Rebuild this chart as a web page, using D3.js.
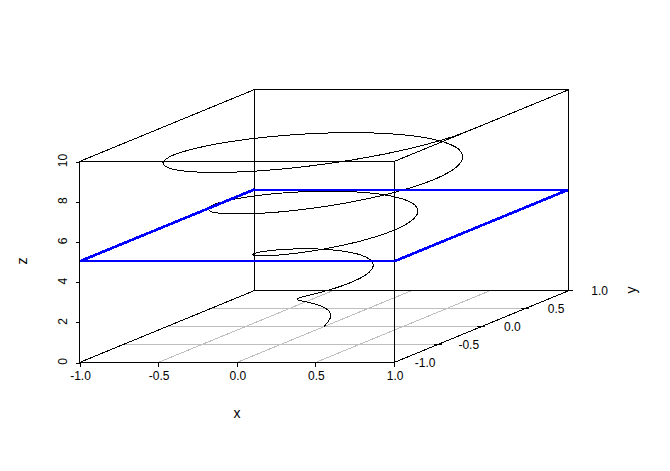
<!DOCTYPE html>
<html>
<head>
<meta charset="utf-8">
<script src="https://cdn.jsdelivr.net/npm/d3@7/dist/d3.min.js"></script>
<style>
html,body{margin:0;padding:0;background:#fff;}
svg{display:block;}
text{font-family:"Liberation Sans",Arial,sans-serif;font-size:12px;fill:#000;}
</style>
</head>
<body>
<div id="chart"></div>
<script>
const xTickValues = [-1, -0.5, 0, 0.5, 1];
const xTickLabels = ["-1.0", "-0.5", "0.0", "0.5", "1.0"];
const yTickValues = [-1, -0.5, 0, 0.5, 1];
const yTickLabels = ["-1.0", "-0.5", "0.0", "0.5", "1.0"];
const zTickValues = [0, 2, 4, 6, 8, 10];
const gridX = [-0.5, 0, 0.5];
const gridY = [-0.5, 0, 0.5];
const planeZ = 5;

const helixX = [0,.010,.018,.022,.021,.013,0,-.019,-.042,-.066,-.090,-.111,-.125,-.131,-.126,-.111,-.083,-.046,0,.051,.104,.155,.198,.231,
.25,.2515,.2345,.1989,.1458,.0782,0,-.0836,-.1667,-.2431,-.3067,-.3522,-.375,-.3723,-.3428,-.2873,-.2083,-.1105,0,.1159,.2292,.3315,.4150,.4729,
.5,.4930,.4511,.3757,.2708,.1429,0,-.1483,-.2917,-.4199,-.5232,-.5936,-.625,-.6137,-.5593,-.4641,-.3333,-.1752,0,.1806,.3542,.5083,.6315,.7144,
.75,.7345,.6675,.5525,.3958,.2076,0,-.2130,-.4167,-.5967,-.7398,-.8351,-.875,-.8552,-.7758,-.6409,-.4583,-.2399,0,.2453,.4792,.6850,.8480,.9559,1];
const helixY = [0,.003,.010,.022,.036,.050,.063,.070,.072,.066,.052,.030,0,-.035,-.073,-.111,-.144,-.171,-.188,-.191,-.180,-.155,-.115,-.062,
0,.0674,.1354,.1989,.2526,.2918,.3125,.3119,.2887,.2431,.1771,.0944,0,-.0997,-.1979,-.2873,-.3608,-.4125,-.4375,-.4326,-.3969,-.3315,-.2396,-.1267,
0,.1321,.2604,.3757,.4691,.5333,.5625,.5534,.5052,.4199,.3021,.1591,0,-.1645,-.3229,-.4641,-.5773,-.6540,-.6875,-.6741,-.6134,-.5083,-.3646,-.1914,
0,.1968,.3854,.5525,.6856,.7748,.8125,.7948,.7217,.5967,.4271,.2238,0,-.2292,-.4479,-.6409,-.7939,-.8955,-.9375,-.9156,-.8299,-.6850,-.4896,-.2561,0];
const helixZ = [0,.104,.208,.313,.417,.521,.625,.729,.833,.938,1.042,1.146,1.25,1.354,1.458,1.563,1.667,1.771,1.875,1.979,2.083,2.188,2.292,2.396,
2.5,2.604,2.708,2.813,2.917,3.021,3.125,3.229,3.333,3.438,3.542,3.646,3.75,3.854,3.958,4.063,4.167,4.271,4.375,4.479,4.583,4.688,4.792,4.896,
5,5.104,5.208,5.313,5.417,5.521,5.625,5.729,5.833,5.938,6.042,6.146,6.25,6.354,6.458,6.563,6.667,6.771,6.875,6.979,7.083,7.188,7.292,7.396,
7.5,7.604,7.708,7.813,7.917,8.021,8.125,8.229,8.333,8.438,8.542,8.646,8.75,8.854,8.958,9.063,9.167,9.271,9.375,9.479,9.583,9.688,9.792,9.896,10];

const width = 670, height = 471;
const svg = d3.select("#chart").append("svg").attr("width", width).attr("height", height);

const xScale = d3.scaleLinear().domain([-1, 1]).range([79.5, 394.1]);
const zScale = d3.scaleLinear().domain([0, 10]).range([362.5, 161.5]);
const depthX = d3.scaleLinear().domain([-1, 1]).range([0, 174.6]);
const depthY = d3.scaleLinear().domain([-1, 1]).range([0, 71.8]);
const px = (x, y) => xScale(x) + depthX(y);
const py = (y, z) => zScale(z) - depthY(y);

function seg(x1, y1, z1, x2, y2, z2, stroke, sw, dy) {
  svg.append("line")
    .attr("x1", px(x1, y1)).attr("y1", py(y1, z1) + (dy || 0))
    .attr("x2", px(x2, y2)).attr("y2", py(y2, z2) + (dy || 0))
    .attr("stroke", stroke).attr("stroke-width", sw || 1)
    .attr("shape-rendering", "crispEdges");
}

// floor grid
gridX.forEach(v => seg(v, -1, 0, v, 1, 0, "#bebebe"));
gridY.forEach(v => seg(-1, v, 0, 1, v, 0, "#bebebe"));

// helix
const line = d3.line()
  .x((d, i) => px(helixX[i], helixY[i]))
  .y((d, i) => py(helixY[i], helixZ[i]))
  .curve(d3.curveCatmullRom.alpha(0.5));
svg.append("path").datum(helixZ).attr("d", line)
  .attr("fill", "none").attr("stroke", "#000").attr("stroke-width", 1)
  .attr("shape-rendering", "crispEdges");

// box
const zMax = 10, zMin = 0;
[
  [-1,-1,zMin, 1,-1,zMin], [-1,-1,zMin, -1,1,zMin], [1,-1,zMin, 1,1,zMin], [-1,1,zMin, 1,1,zMin],
  [-1,-1,zMax, 1,-1,zMax], [-1,-1,zMax, -1,1,zMax], [1,-1,zMax, 1,1,zMax], [-1,1,zMax, 1,1,zMax],
  [1,-1,zMin, 1,-1,zMax], [-1,1,zMin, -1,1,zMax]
].forEach(s => seg(s[0], s[1], s[2], s[3], s[4], s[5], "#000"));

// blue plane
[
  [-1,-1, 1,-1, 2], [1,-1, 1,1, 2.7], [1,1, -1,1, 2], [-1,1, -1,-1, 2.7]
].forEach(s => seg(s[0], s[1], planeZ, s[2], s[3], planeZ, "#0000ff", s[4], -0.6));

// outer verticals sit above the plane's ends
[
  [-1,-1,zMin, -1,-1,zMax], [1,1,zMin, 1,1,zMax]
].forEach(s => seg(s[0], s[1], s[2], s[3], s[4], s[5], "#000"));

// x axis
const xAxis = d3.axisBottom(xScale).tickValues(xTickValues)
  .tickSize(4).tickFormat((d, i) => xTickLabels[i]);
const gx = svg.append("g").attr("transform", "translate(0,362.5)").call(xAxis);
gx.select(".domain").remove();
gx.selectAll("line").attr("stroke", "#000").attr("shape-rendering", "crispEdges");
gx.selectAll("text").attr("y", 17).attr("dy", 0).attr("x", 0.5)
  .attr("font-family", null).attr("font-size", null);

// z axis
const zAxis = d3.axisLeft(zScale).tickValues(zTickValues).tickSize(4);
const gz = svg.append("g").attr("transform", "translate(79.5,0)").call(zAxis);
gz.select(".domain").remove();
gz.selectAll("line").attr("stroke", "#000").attr("shape-rendering", "crispEdges");
gz.selectAll("text").attr("x", null).attr("dy", null)
  .attr("transform", "translate(-13,-1.5) rotate(-90)")
  .attr("text-anchor", "middle");

// y axis
yTickValues.forEach((v, i) => {
  if (v > -1) {
    svg.append("line")
      .attr("x1", px(1, v) - 4).attr("x2", px(1, v) + 4)
      .attr("y1", py(v, 0)).attr("y2", py(v, 0))
      .attr("stroke", "#000").attr("shape-rendering", "crispEdges");
  }
  svg.append("text")
    .attr("x", px(1, v) + 31).attr("y", py(v, 0) + 4.5)
    .attr("text-anchor", "middle").text(yTickLabels[i]);
});

// axis titles
svg.append("text").attr("x", 237).attr("y", 418).attr("text-anchor", "middle")
  .style("font-size", "14px").text("x");
svg.append("text").attr("transform", "translate(27,261) rotate(-90)").attr("text-anchor", "middle")
  .style("font-size", "14px").text("z");
svg.append("text").attr("transform", "translate(636,290) rotate(-90)").attr("text-anchor", "middle")
  .style("font-size", "14px").text("y");
</script>
</body>
</html>
